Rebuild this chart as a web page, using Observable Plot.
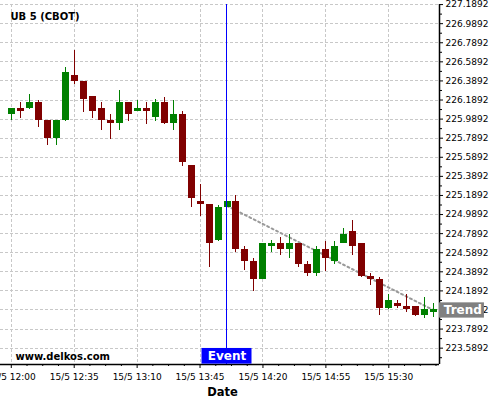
<!DOCTYPE html>
<html>
<head>
<meta charset="utf-8">
<script src="https://cdn.jsdelivr.net/npm/d3@7"></script>
<script src="https://cdn.jsdelivr.net/npm/@observablehq/plot@0.6"></script>
<style>
  html, body { margin: 0; padding: 0; background: #fff; }
  #chart svg { display: block; }
</style>
</head>
<body>
<div id="chart"></div>
<script>
const title = "UB 5 (CBOT)";
const watermark = "www.delkos.com";
const dayLabel = "15/5";
const times = ["12:00","12:05","12:10","12:15","12:20","12:25","12:30","12:35","12:40","12:45","12:50","12:55",
               "13:00","13:05","13:10","13:15","13:20","13:25","13:30","13:35","13:40","13:45","13:50","13:55",
               "14:00","14:05","14:10","14:15","14:20","14:25","14:30","14:35","14:40","14:45","14:50","14:55",
               "15:00","15:05","15:10","15:15","15:20","15:25","15:30","15:35","15:40","15:45","15:50","15:55"];
const open  = [226.037,226.096,226.096,226.159,225.971,225.785,225.971,226.441,226.378,226.222,226.096,225.971,
               225.942,226.159,226.068,226.096,226.002,226.162,225.939,226.033,225.500,225.123,225.092,224.715,
               225.064,225.123,224.621,224.499,224.311,224.656,224.684,224.621,224.684,224.464,224.373,224.621,
               224.499,224.684,224.809,224.684,224.342,224.308,224.001,224.056,224.025,224.025,223.931,223.965];
const high  = [226.096,226.159,226.250,226.180,225.971,225.971,226.535,226.710,226.378,226.222,226.159,226.033,
               226.284,226.159,226.187,226.159,226.190,226.218,226.183,226.065,225.500,225.309,225.092,225.089,
               225.123,225.186,224.653,224.524,224.684,224.715,224.747,224.778,224.684,224.493,224.650,224.708,
               224.708,224.841,224.932,224.684,224.373,224.328,224.151,224.088,224.151,224.025,224.119,224.056];
const low   = [225.971,225.999,226.086,225.900,225.716,225.716,225.960,226.347,226.057,225.999,225.873,225.779,
               225.873,225.963,226.068,225.936,225.968,225.932,225.869,225.493,225.058,224.966,224.430,224.708,
               225.064,224.587,224.402,224.182,224.311,224.590,224.555,224.527,224.430,224.336,224.339,224.391,
               224.468,224.684,224.555,224.334,224.245,223.928,223.991,224.001,223.959,223.920,223.900,223.907];
const close = [226.096,226.068,226.159,225.971,225.785,225.971,226.473,226.382,226.193,226.068,225.971,225.942,
               226.159,226.033,226.096,226.068,226.162,225.939,226.033,225.534,225.158,225.095,224.687,225.061,
               225.123,224.621,224.499,224.311,224.684,224.684,224.624,224.684,224.468,224.373,224.621,224.530,
               224.653,224.778,224.653,224.342,224.311,224.001,224.088,224.028,223.997,223.931,223.994,223.994];
const yTicks = [223.5892,223.7892,223.9892,224.1892,224.3892,224.5892,224.7892,224.9892,225.1892,225.3892,
                225.5892,225.7892,225.9892,226.1892,226.3892,226.5892,226.7892,226.9892,227.1892];
const yMinorTicks = [223.4892,223.6892,223.8892,224.0892,224.2892,224.4892,224.6892,224.8892,225.0892,225.2892,
                225.4892,225.6892,225.8892,226.0892,226.2892,226.4892,226.6892,226.8892,227.0892];
const xTickTimes = ["12:00","12:35","13:10","13:45","14:20","14:55","15:30"];
const eventTime = "14:00";
const eventLabel = "Event";
const trendTimes = ["14:00","15:55"];
const trendValues = [225.080, 223.986];
const trendLabel = "Trend";
const xDomainTimes = ["11:54","15:58.2"];
const yDomain = [223.418, 227.19];

const toDate = s => {
  const [h, m] = s.split(":");
  return new Date(Date.UTC(2024, 4, 15, +h, 0) + parseFloat(m) * 60000);
};
const MIN = 60000;
const data = times.map((t, i) => ({t: toDate(t), open: open[i], high: high[i], low: low[i], close: close[i]}));
const xTicks = xTickTimes.map(toDate);
const xMinor = [];
for (let i = 0; i < xTicks.length; i++) {
  for (let k = 1; k < 4; k++) xMinor.push(new Date(+xTicks[i] + k * 8.75 * MIN));
}
for (let k = 1; k < 4; k++) { const d = new Date(+xTicks[0] - k * 8.75 * MIN); if (d >= toDate(xDomainTimes[0])) xMinor.push(d); }
const xDomain = xDomainTimes.map(toDate);
const ev = toDate(eventTime);
const trend = trendTimes.map((t, i) => ({t: toDate(t), v: trendValues[i]}));
const fmt = d => `${dayLabel} ${d3.utcFormat("%H:%M")(d)}`;
const colorOf = d => d.close >= d.open ? "#008000" : "#800000";
const grid = {stroke: "#c8c8c8", strokeDasharray: "3,2", strokeWidth: 1, shapeRendering: "crispEdges"};

const chart = Plot.plot({
  width: 500, height: 400,
  marginLeft: 0, marginRight: 61, marginTop: 4, marginBottom: 36,
  x: {type: "utc", domain: xDomain},
  y: {domain: yDomain},
  style: {fontFamily: "DejaVu Sans", fontSize: "9px", background: "white", color: "black", overflow: "visible"},
  marks: [
    Plot.ruleY(yTicks, grid),
    Plot.ruleX(xTicks, grid),
    Plot.line(trend, {x: "t", y: "v", stroke: "#999", strokeWidth: 2, strokeDasharray: "2,3"}),
    Plot.ruleX(data, {x: "t", y1: "low", y2: "high", stroke: colorOf, strokeWidth: 1, shapeRendering: "crispEdges"}),
    Plot.ruleX(data, {x: "t", y1: "open", y2: "close", stroke: colorOf, strokeWidth: 7, shapeRendering: "crispEdges"}),
    Plot.ruleX([ev], {stroke: "#0000ff", strokeWidth: 1, dx: -0.5}),
    Plot.axisX({ticks: xTicks, tickFormat: fmt, tickSize: 4, tickPadding: 5, label: null, fontSize: 9}),
    Plot.axisX({ticks: xMinor, tickFormat: () => "", tickSize: 2, label: null}),
    Plot.axisY({anchor: "right", ticks: yTicks, tickFormat: d => d.toFixed(4), tickSize: 3, tickPadding: 3, label: null, fontSize: 9}),
    Plot.axisY({anchor: "right", ticks: yMinorTicks, tickFormat: () => "", tickSize: 2, label: null}),
    Plot.ruleY([yDomain[0]], {stroke: "black", strokeWidth: 1.5}),
    Plot.ruleX([xDomain[1]], {stroke: "black", strokeWidth: 1.5}),
    Plot.text([title], {frameAnchor: "top-left", dx: 10, dy: 8, fontWeight: "bold", fontSize: 10, textAnchor: "start"}),
    Plot.text([watermark], {frameAnchor: "bottom-left", dx: 15, dy: -4.5, fontWeight: "bold", fontSize: 10, textAnchor: "start"}),
    Plot.rect([ev], {x1: d => new Date(+d - 13.9 * MIN), x2: d => new Date(+d + 13.9 * MIN),
      y1: yDomain[0] + 0.004, y2: yDomain[0] + 0.168, fill: "#0000ff"}),
    Plot.text([ev], {x: d => d, y: yDomain[0] + 0.086, text: () => eventLabel, fill: "white", fontWeight: "bold", fontSize: 12}),
    Plot.rect([trend[1]], {x1: () => xDomain[1], x2: () => new Date(+xDomain[1] + 25 * MIN),
      y1: d => d.v - 0.082, y2: d => d.v + 0.078, fill: "#808080"}),
    Plot.text([trend[1]], {x: () => new Date(+xDomain[1] + 13 * MIN), y: "v", text: () => trendLabel, fill: "white", fontWeight: "bold", fontSize: 12}),
    Plot.text(["Date"], {frameAnchor: "bottom", dx: 2.5, dy: 31, fontWeight: "bold", fontSize: 11.5})
  ]
});
document.getElementById("chart").appendChild(chart);
</script>
</body>
</html>
